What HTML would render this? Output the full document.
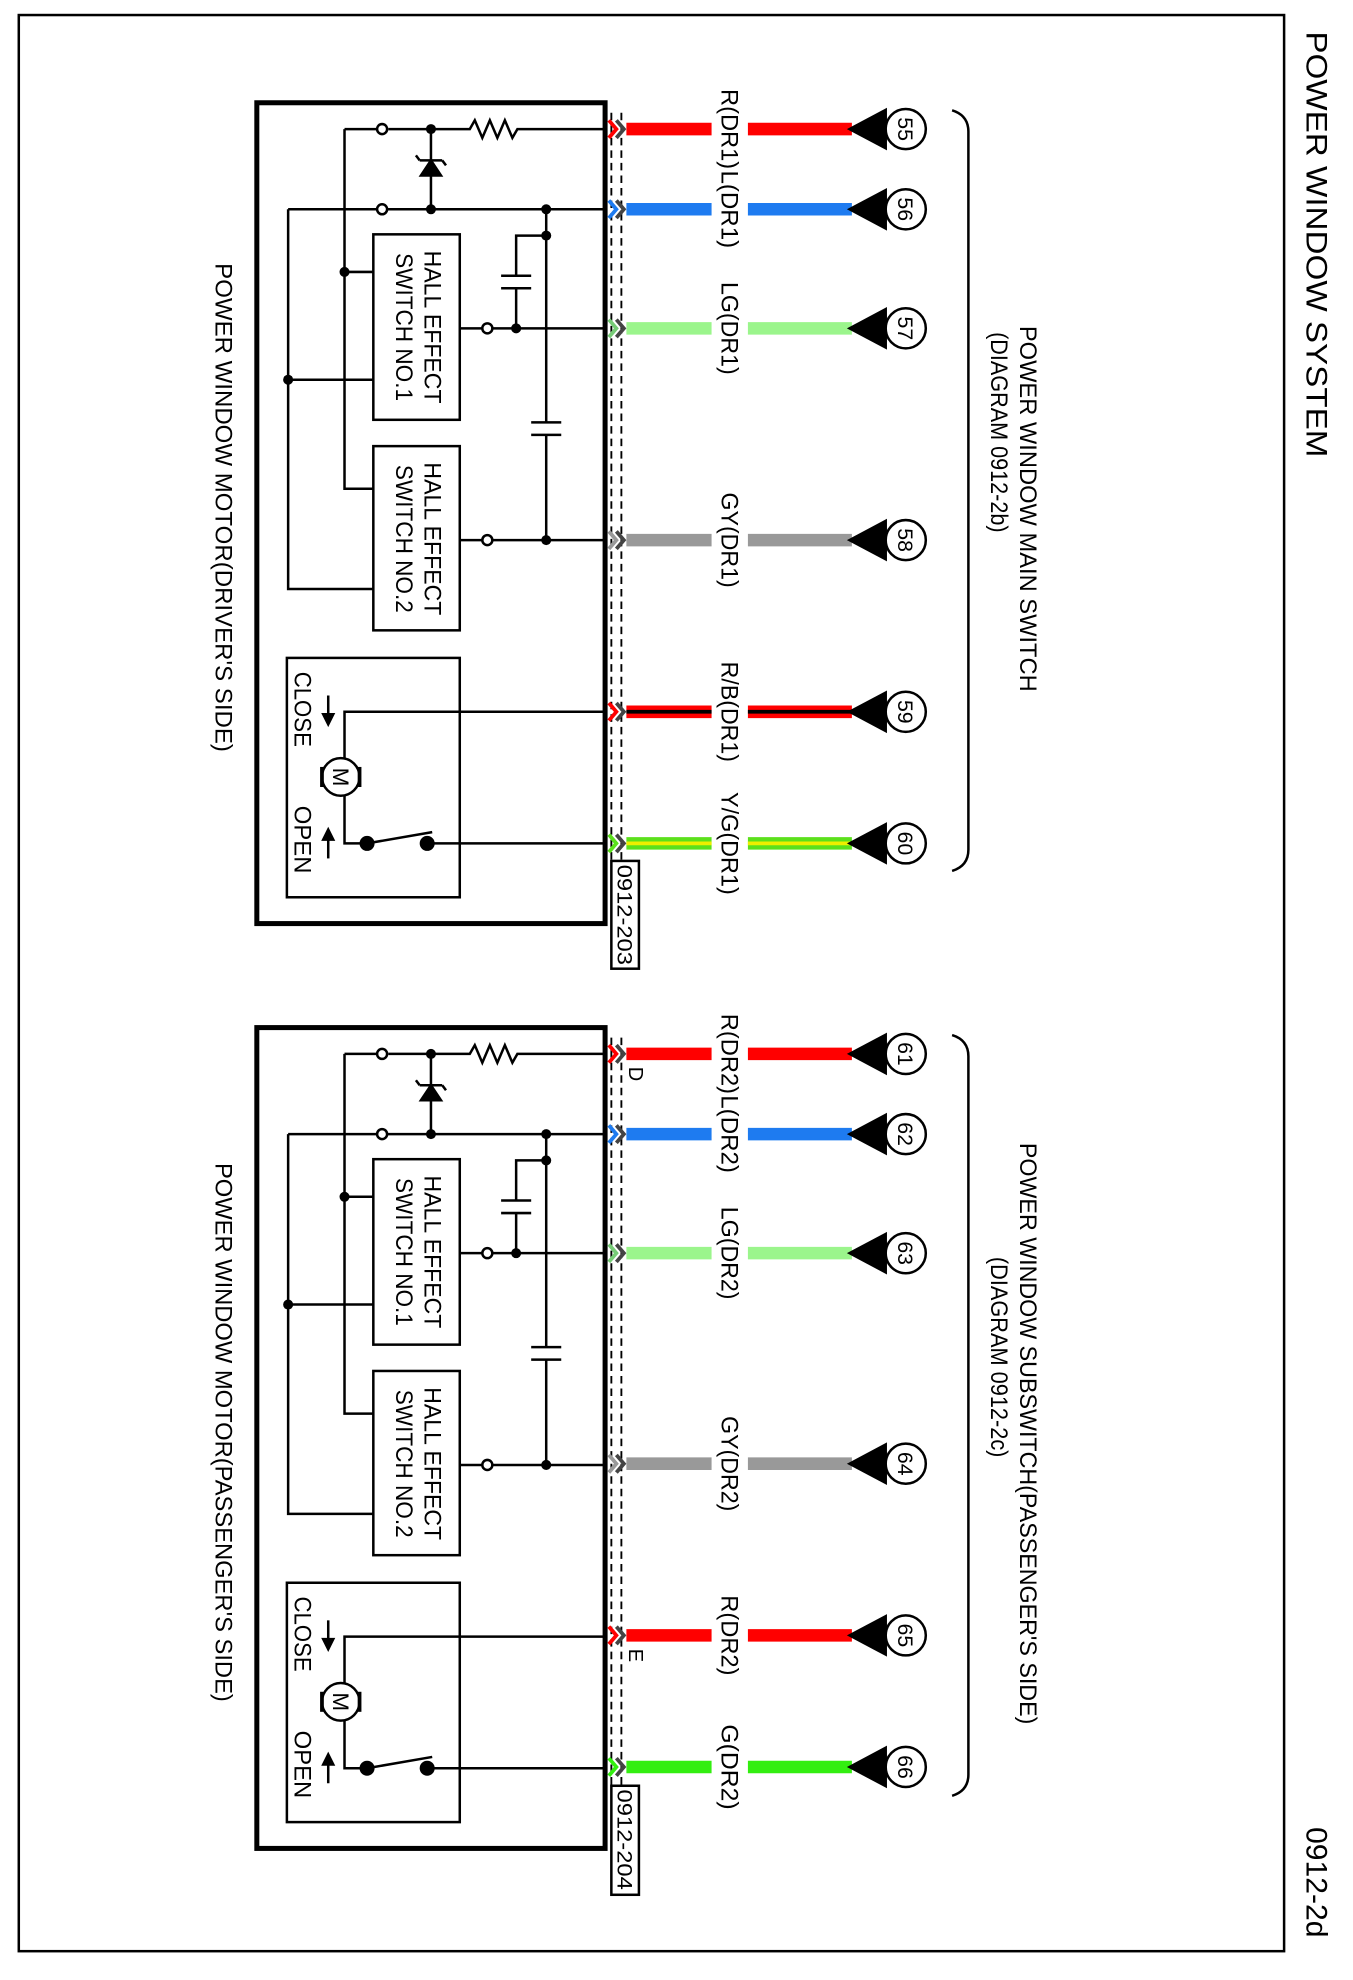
<!DOCTYPE html>
<html><head><meta charset="utf-8"><style>
html,body{margin:0;padding:0;background:#fff}
svg{display:block}
text{font-family:"Liberation Sans",Arial,sans-serif;fill:#000}
</style></head><body>
<svg width="1353" height="1980" viewBox="0 0 1080 1580" preserveAspectRatio="none" xmlns="http://www.w3.org/2000/svg">
<defs>
<g id="sec" fill="none" stroke="#000" stroke-width="2">
  <rect x="205" y="82" width="278" height="655" stroke-width="4"/>
  <line x1="488" y1="90" x2="488" y2="690" stroke-dasharray="6,4" stroke-width="1.5"/>
  <line x1="496" y1="90" x2="496" y2="690" stroke-dasharray="6,4" stroke-width="1.5"/>
  <rect x="298" y="187" width="69" height="148"/>
  <rect x="298" y="356" width="69" height="147"/>
  <rect x="229" y="525" width="138" height="191"/>
  <polyline points="310,103 375,103 379,96 385,110 391,96 397,110 403,96 409,110 413,103 483,103"/>
  <circle cx="305" cy="103" r="4" fill="#fff"/>
  <line x1="301" y1="103" x2="275" y2="103"/>
  <polyline points="275,103 275,390 298,390"/>
  <line x1="275" y1="217" x2="298" y2="217"/>
  <line x1="344" y1="103" x2="344" y2="167"/>
  <polygon points="336,140 352,140 344,128" fill="#000"/>
  <line x1="335" y1="128" x2="353" y2="128"/>
  <line x1="335" y1="128" x2="332" y2="124"/>
  <line x1="353" y1="128" x2="356" y2="132"/>
  <line x1="230" y1="167" x2="301" y2="167"/>
  <circle cx="305" cy="167" r="4" fill="#fff"/>
  <line x1="309" y1="167" x2="483" y2="167"/>
  <polyline points="230,167 230,470 298,470"/>
  <line x1="230" y1="303" x2="298" y2="303"/>
  <line x1="436" y1="167" x2="436" y2="337"/>
  <line x1="436" y1="347" x2="436" y2="431"/>
  <line x1="424" y1="337" x2="448" y2="337"/>
  <line x1="424" y1="347" x2="448" y2="347"/>
  <polyline points="436,188 412,188 412,220"/>
  <line x1="412" y1="230" x2="412" y2="262"/>
  <line x1="400" y1="220" x2="424" y2="220"/>
  <line x1="400" y1="230" x2="424" y2="230"/>
  <line x1="367" y1="262" x2="385" y2="262"/>
  <circle cx="389" cy="262" r="4" fill="#fff"/>
  <line x1="393" y1="262" x2="483" y2="262"/>
  <line x1="367" y1="431" x2="385" y2="431"/>
  <circle cx="389" cy="431" r="4" fill="#fff"/>
  <line x1="393" y1="431" x2="483" y2="431"/>
  <polyline points="483,568 275,568 275,605"/>
  <circle cx="272" cy="620" r="15"/>
  <line x1="257" y1="612" x2="257" y2="628" stroke-width="3"/>
  <line x1="287" y1="612" x2="287" y2="628" stroke-width="3"/>
  <polyline points="275,635 275,673 293,673"/>
  <line x1="293" y1="673" x2="345" y2="664"/>
  <line x1="343" y1="673" x2="483" y2="673"/>
  <line x1="262" y1="555" x2="262" y2="575"/>
  <polygon points="258,570 266,570 262,578" fill="#000"/>
  <line x1="262" y1="665" x2="262" y2="685"/>
  <polygon points="258,670 266,670 262,662" fill="#000"/>
  <path d="M760,88 Q773,92 773,105 L773,678 Q773,691 760,695"/>
</g>
<g id="dots" fill="#000">
  <circle cx="344" cy="103" r="4"/><circle cx="344" cy="167" r="4"/><circle cx="436" cy="167" r="4"/>
  <circle cx="436" cy="188" r="4"/><circle cx="412" cy="262" r="4"/><circle cx="436" cy="431" r="4"/>
  <circle cx="275" cy="217" r="4"/><circle cx="230" cy="303" r="4"/>
  <circle cx="293" cy="673" r="6"/><circle cx="341" cy="673" r="6"/>
</g>
</defs>
<rect x="15" y="12" width="1010" height="1545" fill="none" stroke="#000" stroke-width="2"/>
<text transform="translate(1043,195) rotate(90)" font-size="24" text-anchor="middle" textLength="340" lengthAdjust="spacingAndGlyphs">POWER WINDOW SYSTEM</text>
<text transform="translate(1043,1502) rotate(90)" font-size="24" text-anchor="middle">0912-2d</text>

<use href="#sec"/><use href="#dots"/>
<g transform="translate(0,738)"><use href="#sec"/><use href="#dots"/></g>

<g stroke-width="10">
<line x1="500" y1="103" x2="568" y2="103" stroke="#f00"/><line x1="597" y1="103" x2="680" y2="103" stroke="#f00"/>
<line x1="500" y1="167" x2="568" y2="167" stroke="#1e7bf0"/><line x1="597" y1="167" x2="680" y2="167" stroke="#1e7bf0"/>
<line x1="500" y1="262" x2="568" y2="262" stroke="#9bf58c"/><line x1="597" y1="262" x2="680" y2="262" stroke="#9bf58c"/>
<line x1="500" y1="431" x2="568" y2="431" stroke="#999"/><line x1="597" y1="431" x2="680" y2="431" stroke="#999"/>
<line x1="500" y1="568" x2="568" y2="568" stroke="#f00"/><line x1="597" y1="568" x2="680" y2="568" stroke="#f00"/>
<line x1="500" y1="673" x2="568" y2="673" stroke="#5be01c"/><line x1="597" y1="673" x2="680" y2="673" stroke="#5be01c"/>
</g>
<g stroke-width="3">
<line x1="500" y1="568" x2="568" y2="568" stroke="#000"/><line x1="597" y1="568" x2="680" y2="568" stroke="#000"/>
<line x1="500" y1="673" x2="568" y2="673" stroke="#ee0"/><line x1="597" y1="673" x2="680" y2="673" stroke="#ee0"/>
</g>
<g stroke-width="10">
<line x1="500" y1="841" x2="568" y2="841" stroke="#f00"/><line x1="597" y1="841" x2="680" y2="841" stroke="#f00"/>
<line x1="500" y1="905" x2="568" y2="905" stroke="#1e7bf0"/><line x1="597" y1="905" x2="680" y2="905" stroke="#1e7bf0"/>
<line x1="500" y1="1000" x2="568" y2="1000" stroke="#9bf58c"/><line x1="597" y1="1000" x2="680" y2="1000" stroke="#9bf58c"/>
<line x1="500" y1="1168" x2="568" y2="1168" stroke="#999"/><line x1="597" y1="1168" x2="680" y2="1168" stroke="#999"/>
<line x1="500" y1="1305" x2="568" y2="1305" stroke="#f00"/><line x1="597" y1="1305" x2="680" y2="1305" stroke="#f00"/>
<line x1="500" y1="1410" x2="568" y2="1410" stroke="#33ee10"/><line x1="597" y1="1410" x2="680" y2="1410" stroke="#33ee10"/>
</g>
<g fill="none" stroke-width="3">
<polyline points="486,96 492,103 486,110" stroke="#f00"/><polyline points="492,96 498,103 492,110" stroke="#444"/>
<polyline points="486,160 492,167 486,174" stroke="#1e7bf0"/><polyline points="492,160 498,167 492,174" stroke="#444"/>
<polyline points="486,255 492,262 486,269" stroke="#7c7"/><polyline points="492,255 498,262 492,269" stroke="#444"/>
<polyline points="486,424 492,431 486,438" stroke="#999"/><polyline points="492,424 498,431 492,438" stroke="#444"/>
<polyline points="486,561 492,568 486,575" stroke="#f00"/><polyline points="492,561 498,568 492,575" stroke="#444"/>
<polyline points="486,666 492,673 486,680" stroke="#5be01c"/><polyline points="492,666 498,673 492,680" stroke="#444"/>
<polyline points="486,834 492,841 486,848" stroke="#f00"/><polyline points="492,834 498,841 492,848" stroke="#444"/>
<polyline points="486,898 492,905 486,912" stroke="#1e7bf0"/><polyline points="492,898 498,905 492,912" stroke="#444"/>
<polyline points="486,993 492,1000 486,1007" stroke="#7c7"/><polyline points="492,993 498,1000 492,1007" stroke="#444"/>
<polyline points="486,1161 492,1168 486,1175" stroke="#999"/><polyline points="492,1161 498,1168 492,1175" stroke="#444"/>
<polyline points="486,1298 492,1305 486,1312" stroke="#f00"/><polyline points="492,1298 498,1305 492,1312" stroke="#444"/>
<polyline points="486,1403 492,1410 486,1417" stroke="#33ee10"/><polyline points="492,1403 498,1410 492,1417" stroke="#444"/>
</g>
<g fill="#000">
<polygon points="676,103 708,86 708,120"/><polygon points="676,167 708,150 708,184"/><polygon points="676,262 708,245 708,279"/>
<polygon points="676,431 708,414 708,448"/><polygon points="676,568 708,551 708,585"/><polygon points="676,673 708,656 708,690"/>
<polygon points="676,841 708,824 708,858"/><polygon points="676,905 708,888 708,922"/><polygon points="676,1000 708,983 708,1017"/>
<polygon points="676,1168 708,1151 708,1185"/><polygon points="676,1305 708,1288 708,1322"/><polygon points="676,1410 708,1393 708,1427"/>
</g>
<g fill="#fff" stroke="#000" stroke-width="2">
<circle cx="723" cy="103" r="16"/><circle cx="723" cy="167" r="16"/><circle cx="723" cy="262" r="16"/>
<circle cx="723" cy="431" r="16"/><circle cx="723" cy="568" r="16"/><circle cx="723" cy="673" r="16"/>
<circle cx="723" cy="841" r="16"/><circle cx="723" cy="905" r="16"/><circle cx="723" cy="1000" r="16"/>
<circle cx="723" cy="1168" r="16"/><circle cx="723" cy="1305" r="16"/><circle cx="723" cy="1410" r="16"/>
<rect x="488" y="687" width="22" height="86"/><rect x="488" y="1425" width="22" height="87"/>
</g>
<g font-size="19" text-anchor="middle">
<text transform="translate(717,103) rotate(90)" font-size="17">55</text><text transform="translate(717,167) rotate(90)" font-size="17">56</text>
<text transform="translate(717,262) rotate(90)" font-size="17">57</text><text transform="translate(717,431) rotate(90)" font-size="17">58</text>
<text transform="translate(717,568) rotate(90)" font-size="17">59</text><text transform="translate(717,673) rotate(90)" font-size="17">60</text>
<text transform="translate(717,841) rotate(90)" font-size="17">61</text><text transform="translate(717,905) rotate(90)" font-size="17">62</text>
<text transform="translate(717,1000) rotate(90)" font-size="17">63</text><text transform="translate(717,1168) rotate(90)" font-size="17">64</text>
<text transform="translate(717,1305) rotate(90)" font-size="17">65</text><text transform="translate(717,1410) rotate(90)" font-size="17">66</text>
<text transform="translate(576,103) rotate(90)" textLength="64" lengthAdjust="spacingAndGlyphs">R(DR1)</text>
<text transform="translate(576,167) rotate(90)" textLength="62" lengthAdjust="spacingAndGlyphs">L(DR1)</text>
<text transform="translate(576,262) rotate(90)" textLength="74" lengthAdjust="spacingAndGlyphs">LG(DR1)</text>
<text transform="translate(576,431) rotate(90)" textLength="76" lengthAdjust="spacingAndGlyphs">GY(DR1)</text>
<text transform="translate(576,568) rotate(90)" textLength="80" lengthAdjust="spacingAndGlyphs">R/B(DR1)</text>
<text transform="translate(576,673) rotate(90)" textLength="82" lengthAdjust="spacingAndGlyphs">Y/G(DR1)</text>
<text transform="translate(576,841) rotate(90)" textLength="64" lengthAdjust="spacingAndGlyphs">R(DR2)</text>
<text transform="translate(576,905) rotate(90)" textLength="62" lengthAdjust="spacingAndGlyphs">L(DR2)</text>
<text transform="translate(576,1000) rotate(90)" textLength="74" lengthAdjust="spacingAndGlyphs">LG(DR2)</text>
<text transform="translate(576,1168) rotate(90)" textLength="76" lengthAdjust="spacingAndGlyphs">GY(DR2)</text>
<text transform="translate(576,1305) rotate(90)" textLength="64" lengthAdjust="spacingAndGlyphs">R(DR2)</text>
<text transform="translate(576,1410) rotate(90)" textLength="68" lengthAdjust="spacingAndGlyphs">G(DR2)</text>
<text transform="translate(493,730) rotate(90)" font-size="17" textLength="80" lengthAdjust="spacingAndGlyphs">0912-203</text>
<text transform="translate(493,1468) rotate(90)" font-size="17" textLength="80" lengthAdjust="spacingAndGlyphs">0912-204</text>
<text transform="translate(502,857) rotate(90)" font-size="16">D</text>
<text transform="translate(502,1321) rotate(90)" font-size="16">E</text>
<text transform="translate(814,406) rotate(90)" textLength="292" lengthAdjust="spacingAndGlyphs">POWER WINDOW MAIN SWITCH</text>
<text transform="translate(791,345) rotate(90)" textLength="160" lengthAdjust="spacingAndGlyphs">(DIAGRAM 0912-2b)</text>
<text transform="translate(814,1144) rotate(90)" textLength="464" lengthAdjust="spacingAndGlyphs">POWER WINDOW SUBSWITCH(PASSENGER'S SIDE)</text>
<text transform="translate(791,1083) rotate(90)" textLength="160" lengthAdjust="spacingAndGlyphs">(DIAGRAM 0912-2c)</text>
<text transform="translate(172,405) rotate(90)" textLength="390" lengthAdjust="spacingAndGlyphs">POWER WINDOW MOTOR(DRIVER'S SIDE)</text>
<text transform="translate(172,1143) rotate(90)" textLength="430" lengthAdjust="spacingAndGlyphs">POWER WINDOW MOTOR(PASSENGER'S SIDE)</text>
<text transform="translate(339,261) rotate(90)" textLength="122" lengthAdjust="spacingAndGlyphs">HALL EFFECT</text>
<text transform="translate(316,261) rotate(90)" textLength="118" lengthAdjust="spacingAndGlyphs">SWITCH NO.1</text>
<text transform="translate(339,430) rotate(90)" textLength="122" lengthAdjust="spacingAndGlyphs">HALL EFFECT</text>
<text transform="translate(316,430) rotate(90)" textLength="118" lengthAdjust="spacingAndGlyphs">SWITCH NO.2</text>
<text transform="translate(339,999) rotate(90)" textLength="122" lengthAdjust="spacingAndGlyphs">HALL EFFECT</text>
<text transform="translate(316,999) rotate(90)" textLength="118" lengthAdjust="spacingAndGlyphs">SWITCH NO.1</text>
<text transform="translate(339,1168) rotate(90)" textLength="122" lengthAdjust="spacingAndGlyphs">HALL EFFECT</text>
<text transform="translate(316,1168) rotate(90)" textLength="118" lengthAdjust="spacingAndGlyphs">SWITCH NO.2</text>
<text transform="translate(235,566) rotate(90)" textLength="60" lengthAdjust="spacingAndGlyphs">CLOSE</text>
<text transform="translate(235,670) rotate(90)" textLength="54" lengthAdjust="spacingAndGlyphs">OPEN</text>
<text transform="translate(235,1304) rotate(90)" textLength="60" lengthAdjust="spacingAndGlyphs">CLOSE</text>
<text transform="translate(235,1408) rotate(90)" textLength="54" lengthAdjust="spacingAndGlyphs">OPEN</text>
<text transform="translate(266,620) rotate(90)" font-size="18">M</text>
<text transform="translate(266,1358) rotate(90)" font-size="18">M</text>
</g>
</svg>
</body></html>
